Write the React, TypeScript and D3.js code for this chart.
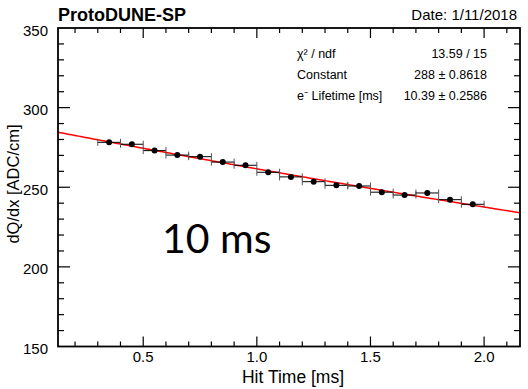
import { useRef, useEffect } from "react";
import * as d3 from "d3";

// bin centres (ms) and mean dQ/dx per bin
const hitTime = [0.35, 0.45, 0.55, 0.65, 0.75, 0.85, 0.95, 1.05, 1.15, 1.25, 1.35, 1.45, 1.55, 1.65, 1.75, 1.85, 1.95];
const dqdx = [278.2, 277.0, 273.0, 270.2, 269.2, 265.8, 263.8, 259.4, 256.5, 253.5, 251.2, 250.8, 246.9, 245.1, 246.4, 242.2, 239.3];
const binHalfWidth = 0.05;

const fitConstant = 288;
const fitLifetime = 10.39;

const statRows = [
  ["χ² / ndf", "13.59 / 15"],
  ["Constant", "288 ± 0.8618"],
  ["e⁻ Lifetime [ms]", "10.39 ± 0.2586"],
];

const xTickLabels = ["0.5", "1.0", "1.5", "2.0"];
const yTickLabels = ["150", "200", "250", "300", "350"];

const W = 528;
const H = 389;
const font = "'Liberation Sans', Arial, sans-serif";

const App = () => {
  const svgRef = useRef<SVGSVGElement>(null);

  useEffect(() => {
    const svg = d3.select(svgRef.current);
    svg.selectAll("*").remove();

    const left = 58, right = 520, top = 28, bottom = 346.5;
    const x = d3.scaleLinear().domain([0.125, 2.158]).range([left, right]);
    const y = d3.scaleLinear().domain([150, 350]).range([bottom, top]);

    const g = svg.append("g");

    // ticks drawn inside the frame, ROOT style
    const tickG = g.append("g").attr("stroke", "#000").attr("stroke-width", 1.2);
    d3.range(0.2, 2.16, 0.1).forEach((v) => {
      const major = Math.abs(v * 2 - Math.round(v * 2)) < 1e-6;
      const len = major ? 10 : 5;
      tickG.append("line").attr("x1", x(v)).attr("x2", x(v)).attr("y1", bottom).attr("y2", bottom - len);
      tickG.append("line").attr("x1", x(v)).attr("x2", x(v)).attr("y1", top).attr("y2", top + len);
    });
    d3.range(160, 350, 10).forEach((v) => {
      const major = v % 50 === 0;
      const len = major ? 12 : 6;
      tickG.append("line").attr("x1", left).attr("x2", left + len).attr("y1", y(v)).attr("y2", y(v));
      tickG.append("line").attr("x1", right).attr("x2", right - len).attr("y1", y(v)).attr("y2", y(v));
    });

    // fit curve
    const line = d3.line<number>().x((t) => x(t)).y((t) => y(fitConstant * Math.exp(-t / fitLifetime)));
    g.append("path")
      .datum(d3.range(0.125, 2.1581, 0.01))
      .attr("d", line)
      .attr("fill", "none")
      .attr("stroke", "#ff0000")
      .attr("stroke-width", 1.5);

    // error bars and points
    const pts = g.append("g");
    hitTime.forEach((t, i) => {
      const yy = y(dqdx[i]);
      pts.append("line")
        .attr("x1", x(t - binHalfWidth)).attr("x2", x(t + binHalfWidth))
        .attr("y1", yy).attr("y2", yy)
        .attr("stroke", "#000").attr("stroke-width", 1);
      [t - binHalfWidth, t + binHalfWidth].forEach((e) => {
        pts.append("line")
          .attr("x1", x(e)).attr("x2", x(e))
          .attr("y1", yy - 3.5).attr("y2", yy + 3.5)
          .attr("stroke", "#555").attr("stroke-width", 1);
      });
      pts.append("circle").attr("cx", x(t)).attr("cy", yy).attr("r", 3).attr("fill", "#000");
    });

    // frame
    g.append("rect")
      .attr("x", left).attr("y", top)
      .attr("width", right - left).attr("height", bottom - top)
      .attr("fill", "none").attr("stroke", "#000").attr("stroke-width", 1.8);

    // tick labels
    xTickLabels.forEach((s) => {
      g.append("text").attr("x", x(+s)).attr("y", 362)
        .attr("text-anchor", "middle").attr("font-family", font).attr("font-size", 15)
        .text(s);
    });
    yTickLabels.forEach((s) => {
      g.append("text").attr("x", 48).attr("y", y(+s) + 7.5)
        .attr("text-anchor", "end").attr("font-family", font).attr("font-size", 15)
        .text(s);
    });

    // axis titles
    g.append("text").attr("x", 293).attr("y", 383)
      .attr("text-anchor", "middle").attr("font-family", font).attr("font-size", 17.5)
      .text("Hit Time [ms]");
    g.append("text").attr("transform", "translate(19,184) rotate(-90)")
      .attr("text-anchor", "middle").attr("font-family", font).attr("font-size", 16.5)
      .text("dQ/dx [ADC/cm]");

    // header
    g.append("text").attr("x", 58).attr("y", 21)
      .attr("font-family", font).attr("font-size", 18).attr("font-weight", "bold")
      .text("ProtoDUNE-SP");
    g.append("text").attr("x", 517).attr("y", 20)
      .attr("text-anchor", "end").attr("font-family", font).attr("font-size", 15)
      .text("Date: 1/11/2018");

    // stats box
    statRows.forEach(([k, v], i) => {
      const yy = 58 + i * 21;
      g.append("text").attr("x", 297).attr("y", yy)
        .attr("font-family", font).attr("font-size", 12.5).text(k);
      g.append("text").attr("x", 487).attr("y", yy)
        .attr("text-anchor", "end").attr("font-family", font).attr("font-size", 12.5).text(v);
    });

    // annotation
    g.append("text").attr("x", 162).attr("y", 253)
      .attr("font-family", "Lato, 'Open Sans', sans-serif").attr("font-size", 41)
      .text("10 ms");
  }, []);

  return (
    <svg
      ref={svgRef}
      width={W}
      height={H}
      style={{ position: "absolute", left: 0, top: 0, background: "#fff" }}
    />
  );
};

export default App;
